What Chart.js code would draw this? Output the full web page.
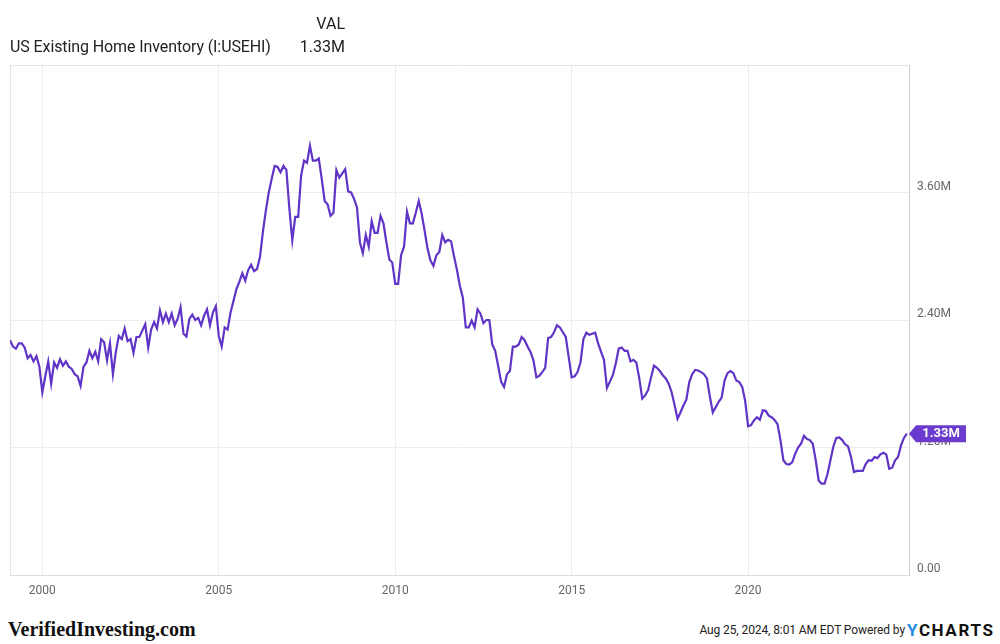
<!DOCTYPE html>
<html>
<head>
<meta charset="utf-8">
<script src="https://cdn.jsdelivr.net/npm/chart.js@4/dist/chart.umd.min.js"></script>
<style>
  body { margin: 0; background: #fff; font-family: Roboto, "Noto Sans", sans-serif; }
  #wrap { position: relative; width: 1000px; height: 644px; overflow: hidden; }
  #chartBox { position: absolute; left: 0; top: 0; width: 1000px; height: 610px; }
  .txt { position: absolute; color: #222; white-space: nowrap; }
</style>
</head>
<body>
<div id="wrap">
  <div id="chartBox"><canvas id="inventoryChart"></canvas></div>
  <div class="txt" style="right:655px; top:14px; font-size:16px;">VAL</div>
  <div class="txt" style="left:10px; top:37px; font-size:16px; letter-spacing:-0.1px;">US Existing Home Inventory (I:USEHI)</div>
  <div class="txt" style="right:655px; top:37px; font-size:16px;">1.33M</div>
  <div class="txt" style="left:8px; top:618px; font-family:'Liberation Serif', serif; font-weight:bold; font-size:20px; color:#111;">VerifiedInvesting.com</div>
  <div class="txt" style="right:95px; top:623px; font-size:12px; letter-spacing:-0.1px; color:#222;">Aug 25, 2024, 8:01 AM EDT Powered by</div>
  <div class="txt" style="left:907px; top:620px; font-size:17px; font-weight:bold; letter-spacing:1.6px; color:#111;"><span style="color:#2b8ee6;">Y</span>CHARTS</div>
</div>
<script>
// Monthly series, starting Feb 1999 (millions of homes)
const startYear = 1999;
const startMonth = 2;
const inventory = [
  2.21, 2.15, 2.13, 2.18, 2.18, 2.14, 2.04, 2.07, 2.01, 2.06, 1.96, 1.72,
  1.87, 2.01, 1.80, 2.00, 1.95, 2.03, 1.97, 2.01, 1.96, 1.94, 1.89, 1.87,
  1.78, 1.96, 2.00, 2.11, 2.04, 2.10, 2.01, 2.22, 2.19, 2.02, 2.18, 1.89,
  2.10, 2.25, 2.22, 2.32, 2.20, 2.22, 2.09, 2.24, 2.24, 2.30, 2.36, 2.14,
  2.31, 2.38, 2.32, 2.49, 2.38, 2.46, 2.38, 2.46, 2.35, 2.41, 2.52, 2.27,
  2.245, 2.41, 2.45, 2.40, 2.42, 2.35, 2.44, 2.50, 2.35, 2.47, 2.53, 2.25,
  2.15, 2.33, 2.31, 2.47, 2.58, 2.69, 2.76, 2.84, 2.77, 2.87, 2.92, 2.86,
  2.88, 2.99, 3.23, 3.43, 3.60, 3.73, 3.85, 3.84, 3.79, 3.85, 3.81, 3.45,
  3.15, 3.37, 3.37, 3.76, 3.90, 3.88, 4.04, 3.90, 3.90, 3.92, 3.73, 3.52,
  3.49, 3.38, 3.41, 3.81, 3.74, 3.78, 3.82, 3.61, 3.60, 3.54, 3.46, 3.13,
  3.03, 3.20, 3.09, 3.33, 3.22, 3.22, 3.38, 3.31, 3.13, 2.97, 2.94, 2.74,
  2.74, 3.01, 3.09, 3.42, 3.31, 3.31, 3.41, 3.52, 3.40, 3.24, 3.07, 2.96,
  2.91, 3.01, 3.04, 3.20, 3.13, 3.155, 3.14, 3.00, 2.87, 2.72, 2.61, 2.33,
  2.33, 2.395, 2.33, 2.50, 2.46, 2.37, 2.40, 2.40, 2.17, 2.11, 1.97, 1.82,
  1.77, 1.89, 1.92, 2.15, 2.15, 2.17, 2.24, 2.21, 2.15, 2.10, 2.02, 1.86,
  1.875, 1.91, 1.95, 2.23, 2.24, 2.285, 2.35, 2.33, 2.285, 2.24, 2.05, 1.86,
  1.87, 1.91, 2.00, 2.22, 2.28, 2.26, 2.27, 2.28, 2.18, 2.10, 2.025, 1.76,
  1.82, 1.88, 1.99, 2.13, 2.14, 2.11, 2.11, 2.01, 2.025, 2.00, 1.85, 1.66,
  1.69, 1.74, 1.86, 1.97, 1.95, 1.92, 1.88, 1.85, 1.80, 1.72, 1.60, 1.47,
  1.53, 1.595, 1.65, 1.815, 1.89, 1.93, 1.925, 1.91, 1.89, 1.85, 1.68, 1.53,
  1.58, 1.63, 1.67, 1.83, 1.90, 1.92, 1.90, 1.83, 1.815, 1.77, 1.64, 1.40,
  1.41, 1.455, 1.485, 1.46, 1.55, 1.545, 1.50, 1.485, 1.46, 1.42, 1.27, 1.08,
  1.045, 1.04, 1.06, 1.14, 1.20, 1.235, 1.31, 1.28, 1.27, 1.235, 1.08, 0.89,
  0.86, 0.86, 0.95, 1.08, 1.21, 1.29, 1.295, 1.27, 1.23, 1.21, 1.11, 0.97,
  0.98, 0.98, 0.98, 1.045, 1.08, 1.075, 1.11, 1.10, 1.135, 1.15, 1.135, 1.00,
  1.01, 1.08, 1.11, 1.22, 1.29, 1.33
];
const xTicks = [2000, 2005, 2010, 2015, 2020];
const yTicks = [0, 1.2, 2.4, 3.6, 4.8];
const xMax = 2024.56;
const lastLabel = "1.33M";

const lineColor = "#6034c6";
const gridColor = "#ededed";

const points = inventory.map((v, i) => ({
  x: startYear + (startMonth - 1 + i) / 12,
  y: v,
}));

// box around the plot + value flag at the end of the line
const decorations = {
  id: "decorations",
  beforeDatasetsDraw(chart) {
    const { ctx, chartArea } = chart;
    ctx.save();
    ctx.strokeStyle = "#e4e4e4";
    ctx.lineWidth = 1;
    ctx.beginPath();
    ctx.moveTo(chartArea.left + 0.5, chartArea.bottom);
    ctx.lineTo(chartArea.left + 0.5, chartArea.top + 0.5);
    ctx.lineTo(chartArea.right, chartArea.top + 0.5);
    ctx.stroke();
    ctx.restore();
  },
  afterDraw(chart) {
    const { ctx, chartArea } = chart;
    const meta = chart.getDatasetMeta(0);
    const last = meta.data[meta.data.length - 1];
    const x = chartArea.right;
    const y = last.y;
    ctx.save();
    ctx.fillStyle = "#6a3bcc";
    ctx.beginPath();
    ctx.moveTo(x, y);
    ctx.lineTo(x + 7, y - 8.5);
    ctx.lineTo(x + 57, y - 8.5);
    ctx.lineTo(x + 57, y + 8.5);
    ctx.lineTo(x + 7, y + 8.5);
    ctx.closePath();
    ctx.fill();
    ctx.fillStyle = "#fff";
    ctx.font = "bold 13px Roboto";
    ctx.textAlign = "center";
    ctx.textBaseline = "middle";
    ctx.fillText(lastLabel, x + 32, y + 0.5);
    ctx.restore();
  },
};

const ctx = document.getElementById("inventoryChart").getContext("2d");
new Chart(ctx, {
  type: "line",
  data: {
    datasets: [
      {
        label: "US Existing Home Inventory",
        data: points,
        borderColor: lineColor,
        borderWidth: 2.2,
        pointRadius: 0,
        tension: 0,
        fill: false,
      },
    ],
  },
  options: {
    responsive: true,
    maintainAspectRatio: false,
    animation: false,
    layout: { padding: { left: 10, top: 65, right: 0, bottom: 0 } },
    plugins: {
      legend: { display: false },
      tooltip: { enabled: false },
    },
    scales: {
      x: {
        type: "linear",
        min: startYear + (startMonth - 1) / 12,
        max: xMax,
        afterBuildTicks: (axis) => {
          axis.ticks = xTicks.map((v) => ({ value: v }));
        },
        afterFit: (axis) => {
          axis.height = 35;
        },
        grid: { color: gridColor, drawTicks: false },
        border: { color: "#dedede" },
        ticks: {
          color: "#666",
          font: { family: "Roboto", size: 12 },
          padding: 9,
          maxRotation: 0,
          callback: (v) => String(v),
        },
      },
      y: {
        position: "right",
        min: 0,
        max: 4.8,
        afterBuildTicks: (axis) => {
          axis.ticks = yTicks.map((v) => ({ value: v }));
        },
        afterFit: (axis) => {
          axis.width = 91;
        },
        grid: { color: gridColor, drawTicks: false },
        border: { color: "#cfcfcf" },
        ticks: {
          color: "#666",
          font: { family: "Roboto", size: 12 },
          padding: 8,
          labelOffset: -6,
          callback: (v) => {
            if (v === 0) return "0.00";
            if (v > 4.7) return "";
            return v.toFixed(2) + "M";
          },
        },
      },
    },
  },
  plugins: [decorations],
});
</script>
</body>
</html>
